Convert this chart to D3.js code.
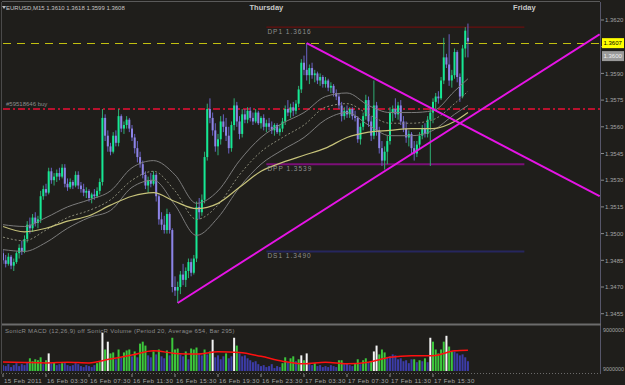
<!DOCTYPE html>
<html><head><meta charset="utf-8">
<script src="https://cdn.jsdelivr.net/npm/d3@7"></script>
<style>html,body{margin:0;padding:0;background:#1f1e1b;}svg{display:block;font-family:"Liberation Sans",Arial,sans-serif;}</style>
</head><body>
<svg id="c" width="625" height="385"></svg>
<script>
// ---------- DATA ----------
const symbol = "EURUSD,M15";
const opens = [1.3489,1.3485,1.3483,1.3487,1.3482,1.3484,1.3489,1.3492,1.3490,1.3497,1.3505,1.3503,1.3509,1.3506,1.3508,1.3521,1.3525,1.3523,1.3535,1.3530,1.3532,1.3534,1.3532,1.3537,1.3528,1.3526,1.3529,1.3527,1.3533,1.3527,1.3525,1.3523,1.3524,1.3520,1.3522,1.3521,1.3524,1.3529,1.3565,1.3555,1.3549,1.3546,1.3555,1.3551,1.3566,1.3559,1.3561,1.3564,1.3559,1.3554,1.3548,1.3543,1.3539,1.3533,1.3527,1.3530,1.3528,1.3533,1.3521,1.3508,1.3505,1.3502,1.3511,1.3502,1.3470,1.3468,1.3470,1.3477,1.3474,1.3479,1.3484,1.3478,1.3486,1.3515,1.3512,1.3519,1.3543,1.3570,1.3565,1.3558,1.3549,1.3553,1.3563,1.3560,1.3555,1.3548,1.3561,1.3572,1.3563,1.3556,1.3567,1.3564,1.3569,1.3565,1.3563,1.3568,1.3562,1.3565,1.3560,1.3562,1.3560,1.3558,1.3561,1.3557,1.3559,1.3563,1.3570,1.3568,1.3571,1.3569,1.3573,1.3581,1.3596,1.3592,1.3589,1.3593,1.3589,1.3590,1.3586,1.3588,1.3584,1.3586,1.3582,1.3583,1.3579,1.3577,1.3572,1.3566,1.3569,1.3567,1.3570,1.3566,1.3565,1.3553,1.3560,1.3566,1.3575,1.3563,1.3555,1.3572,1.3558,1.3548,1.3541,1.3546,1.3552,1.3568,1.3570,1.3567,1.3572,1.3563,1.3559,1.3554,1.3556,1.3548,1.3545,1.3550,1.3555,1.3559,1.3556,1.3564,1.3568,1.3574,1.3577,1.3576,1.3586,1.3599,1.3595,1.3586,1.3589,1.3602,1.3588,1.3577,1.3604,1.3610];
const highs = [1.3491,1.3488,1.3489,1.3488,1.3486,1.3490,1.3494,1.3496,1.3499,1.3507,1.3509,1.3511,1.3512,1.3510,1.3524,1.3527,1.3528,1.3537,1.3537,1.3534,1.3536,1.3537,1.3539,1.3539,1.3531,1.3531,1.3530,1.3535,1.3535,1.3529,1.3528,1.3526,1.3525,1.3523,1.3525,1.3526,1.3531,1.3570,1.3567,1.3558,1.3551,1.3557,1.3558,1.3570,1.3567,1.3563,1.3566,1.3565,1.3561,1.3556,1.3552,1.3546,1.3541,1.3535,1.3532,1.3534,1.3535,1.3534,1.3522,1.3512,1.3510,1.3514,1.3512,1.3503,1.3476,1.3473,1.3479,1.3483,1.3481,1.3486,1.3486,1.3488,1.3518,1.3520,1.3522,1.3546,1.3573,1.3576,1.3568,1.3562,1.3556,1.3566,1.3567,1.3565,1.3560,1.3563,1.3576,1.3574,1.3566,1.3570,1.3570,1.3571,1.3571,1.3568,1.3570,1.3569,1.3566,1.3567,1.3564,1.3565,1.3563,1.3562,1.3562,1.3561,1.3565,1.3572,1.3575,1.3573,1.3574,1.3575,1.3583,1.3598,1.3600,1.3607,1.3595,1.3596,1.3592,1.3591,1.3590,1.3589,1.3588,1.3587,1.3585,1.3584,1.3581,1.3579,1.3574,1.3571,1.3572,1.3571,1.3571,1.3569,1.3566,1.3562,1.3568,1.3578,1.3577,1.3566,1.3586,1.3574,1.3560,1.3552,1.3549,1.3555,1.3571,1.3572,1.3576,1.3574,1.3575,1.3566,1.3563,1.3558,1.3557,1.3552,1.3552,1.3557,1.3561,1.3562,1.3566,1.3570,1.3576,1.3579,1.3580,1.3588,1.3610,1.3601,1.3612,1.3592,1.3604,1.3603,1.3590,1.3606,1.3616,1.3618];
const lows = [1.3483,1.3481,1.3482,1.3480,1.3479,1.3483,1.3486,1.3488,1.3489,1.3495,1.3500,1.3501,1.3504,1.3503,1.3506,1.3519,1.3521,1.3522,1.3528,1.3527,1.3529,1.3530,1.3531,1.3526,1.3524,1.3525,1.3525,1.3526,1.3525,1.3523,1.3521,1.3520,1.3518,1.3517,1.3519,1.3520,1.3522,1.3527,1.3552,1.3546,1.3544,1.3545,1.3549,1.3549,1.3557,1.3556,1.3559,1.3557,1.3552,1.3545,1.3540,1.3537,1.3531,1.3525,1.3523,1.3526,1.3527,1.3518,1.3505,1.3502,1.3500,1.3500,1.3500,1.3467,1.3465,1.3461,1.3466,1.3471,1.3470,1.3475,1.3476,1.3477,1.3484,1.3508,1.3510,1.3517,1.3541,1.3562,1.3555,1.3546,1.3544,1.3550,1.3557,1.3552,1.3545,1.3546,1.3558,1.3560,1.3553,1.3554,1.3562,1.3562,1.3563,1.3561,1.3562,1.3561,1.3559,1.3558,1.3557,1.3558,1.3556,1.3555,1.3556,1.3555,1.3557,1.3561,1.3566,1.3565,1.3566,1.3567,1.3571,1.3579,1.3589,1.3586,1.3584,1.3587,1.3585,1.3584,1.3583,1.3582,1.3582,1.3580,1.3579,1.3577,1.3575,1.3570,1.3563,1.3564,1.3565,1.3565,1.3564,1.3563,1.3551,1.3550,1.3558,1.3564,1.3560,1.3552,1.3553,1.3555,1.3545,1.3538,1.3536,1.3539,1.3550,1.3563,1.3565,1.3564,1.3561,1.3557,1.3551,1.3549,1.3545,1.3541,1.3543,1.3548,1.3553,1.3554,1.3554,1.3538,1.3562,1.3570,1.3573,1.3575,1.3584,1.3593,1.3583,1.3582,1.3587,1.3585,1.3574,1.3576,1.3599,1.3599];
const closes = [1.3485,1.3483,1.3487,1.3482,1.3484,1.3489,1.3492,1.3490,1.3497,1.3505,1.3503,1.3509,1.3506,1.3508,1.3521,1.3525,1.3523,1.3535,1.3530,1.3532,1.3534,1.3532,1.3537,1.3528,1.3526,1.3529,1.3527,1.3533,1.3527,1.3525,1.3523,1.3524,1.3520,1.3522,1.3521,1.3524,1.3529,1.3565,1.3555,1.3549,1.3546,1.3555,1.3551,1.3566,1.3559,1.3561,1.3564,1.3559,1.3554,1.3548,1.3543,1.3539,1.3533,1.3527,1.3530,1.3528,1.3533,1.3521,1.3508,1.3505,1.3502,1.3511,1.3502,1.3470,1.3468,1.3470,1.3477,1.3474,1.3479,1.3484,1.3478,1.3486,1.3515,1.3512,1.3519,1.3543,1.3570,1.3565,1.3558,1.3549,1.3553,1.3563,1.3560,1.3555,1.3548,1.3561,1.3572,1.3563,1.3556,1.3567,1.3564,1.3569,1.3565,1.3563,1.3568,1.3562,1.3565,1.3560,1.3562,1.3560,1.3558,1.3561,1.3557,1.3559,1.3563,1.3570,1.3568,1.3571,1.3569,1.3573,1.3581,1.3596,1.3592,1.3589,1.3593,1.3589,1.3590,1.3586,1.3588,1.3584,1.3586,1.3582,1.3583,1.3579,1.3577,1.3572,1.3566,1.3569,1.3567,1.3570,1.3566,1.3565,1.3553,1.3560,1.3566,1.3575,1.3563,1.3555,1.3572,1.3558,1.3548,1.3541,1.3546,1.3552,1.3568,1.3570,1.3567,1.3572,1.3563,1.3559,1.3554,1.3556,1.3548,1.3545,1.3550,1.3555,1.3559,1.3556,1.3564,1.3568,1.3574,1.3577,1.3576,1.3586,1.3599,1.3595,1.3586,1.3589,1.3602,1.3588,1.3577,1.3604,1.3614,1.3608];

const volumes = [240,200,280,160,240,320,200,280,240,360, 520,400,480,440,560,280,440,720,320,360, 240,280,320,360,240,200,240,320,280,200, 160,240,200,160,240,320,400,1560,880,1200, 720,760,480,880,560,760,840,880,600,800, 560,1120,1200,1040,640,560,800,680,880,600, 520,840,640,1360,880,920,680,600,800,480, 920,880,960,720,640,880,680,800,1280,560, 640,480,600,720,520,600,1360,1040,720,600, 640,520,440,360,400,280,200,240,160,200, 280,120,200,160,320,560,360,520,600,400, 480,640,440,720,280,240,320,200,240,160, 200,160,240,200,160,440,440,280,320,240, 200,320,480,280,440,520,360,400,800,1040, 680,880,760,560,600,680,640,480,520,400, 440,320,480,480,360,440,400,520,360,1360, 1200,880,720,880,1200,1440,1000,800,800,720, 640,680,560,400];
const volTypes = "bbbbbbbbbb"+"gggggbgwbg"+"bbgbbbbbbb"+"bbbbbggwgw"+"ggbgbgggbg"+"bgggbbgbgb"+"bgbgggbbgb"+"gggbbgbgwb"+"bbbgbbwgbb"+"bbbbbbbbbb"+"bbbbggbggb"+"gwgwbbgbbb"+"bbbbbggbbb"+"bggbggbgww"+"gggbbbbbbb"+"bbbgbgbgbw"+"gggggwggbb"+"bbbb";
const volAvgIdx = [0,8,16,24,32,40,48,56,64,72,80,88,96,104,112,120,128,136,144,152,160,168,173];
const volAvg    = [372,348,332,360,332,492,652,828,720,692,788,760,600,400,292,360,292,360,560,628,628,828,852];

// moving averages read at sparse bars
const maIdx      = [0,8,16,24,32,40,48,56,64,72,80,88,96,104,112,120,128,136,144,152,160,168,173];
const ema89      = [1.3504,1.3501,1.3503,1.3507,1.3510,1.3516,1.3521,1.3523,1.3518,1.3514,1.3517,1.3526,1.3535,1.3540,1.3544,1.3548,1.3554,1.3557,1.3558,1.3559,1.3559,1.3563,1.3568];
const dragonHigh = [1.3505,1.3504,1.3509,1.3515,1.3519,1.3524,1.3537,1.3541,1.3533,1.3517,1.3524,1.3541,1.3554,1.3562,1.3568,1.3577,1.3579,1.3572,1.3568,1.3568,1.3569,1.3580,1.3587];
const dragonMid  = [1.3498,1.3496,1.3502,1.3509,1.3513,1.3519,1.3530,1.3535,1.3524,1.3508,1.3516,1.3533,1.3546,1.3554,1.3561,1.3571,1.3573,1.3567,1.3562,1.3562,1.3564,1.3573,1.3580];
const dragonLow  = [1.3491,1.3490,1.3495,1.3503,1.3509,1.3513,1.3526,1.3530,1.3516,1.3499,1.3509,1.3526,1.3539,1.3547,1.3554,1.3564,1.3568,1.3561,1.3555,1.3555,1.3558,1.3567,1.3572];

const priceTicks = [1.3620,1.3605,1.3590,1.3575,1.3560,1.3545,1.3530,1.3515,1.3500,1.3485,1.3470,1.3455];
const timeIdx    = [0,16,32,48,64,80,96,112,128,144,160];
const timeLabels = ["15 Feb 2011","16 Feb 03:30","16 Feb 07:30","16 Feb 11:30","16 Feb 15:30","16 Feb 19:30","16 Feb 23:30","17 Feb 03:30","17 Feb 07:30","17 Feb 11:30","17 Feb 15:30"];
const dayIdx     = [98,194];
const dayLabels  = ["Thursday","Friday"];

const pivotNames  = ["DP1","DPP","DS1"];
const pivotValues = [1.3616,1.3539,1.3490];
const pivotColors = ["#7a0c0c","#7c0f78","#26265e"];
const pivotWidths = [1,2,2];
const pivotFrom = 98, pivotTo = 194;

const orderPrice = 1.3570, orderLabel = "#59518646 buy";
const alertPrice = 1.3607;
const lastBid = 1.3600;

const trendFromIdx = [65,113], trendFromPrice = [1.3461,1.3607];
const trendToIdx   = [222,222], trendToPrice   = [1.3612,1.3521];

const panelTitle = "SonicR MACD (12,26,9)   off     SonicR Volume (Period 20, Average 654, Bar 295)";
const volAxisLabels = ["9000000","9000000"];

// ---------- DRAW ----------
const svg = d3.select("#c");
const x = d3.scaleLinear().domain([0,160]).range([3,433]);
const y = d3.scaleLinear().domain([1.3455,1.3620]).range([313.7,20]);
const yv = d3.scaleLinear().domain([0,1800]).range([371,327]);
const L=3,R=600,T=2,B=323;
const FS=6;

svg.append("rect").attr("width",625).attr("height",385).attr("fill","#1f1e1b");
const defs = svg.append("defs");
defs.append("clipPath").attr("id","main").append("rect").attr("x",L).attr("y",T).attr("width",R-L).attr("height",B-T);
defs.append("clipPath").attr("id","vol").append("rect").attr("x",L).attr("y",326).attr("width",R-L).attr("height",47);

// frames
svg.append("line").attr("x1",L-1).attr("x2",R).attr("y1",T-0.5).attr("y2",T-0.5).attr("stroke","#5a5a5a");
svg.append("line").attr("x1",L-1.5).attr("x2",L-1.5).attr("y1",T).attr("y2",374).attr("stroke","#4a4a4a");
svg.append("line").attr("x1",R+0.5).attr("x2",R+0.5).attr("y1",T).attr("y2",374).attr("stroke","#56566a");
svg.append("rect").attr("x",L-1).attr("y",323.5).attr("width",R-L+2).attr("height",2).attr("fill","#6c6c6c");
svg.append("line").attr("x1",L).attr("x2",R).attr("y1",373.5).attr("y2",373.5).attr("stroke","#6a6a6a").attr("stroke-dasharray","1,2");

const gm = svg.append("g").attr("clip-path","url(#main)");

// horizontal lines
gm.append("line").attr("x1",L).attr("x2",R).attr("y1",Math.round(y(alertPrice))+0.5).attr("y2",Math.round(y(alertPrice))+0.5)
  .attr("stroke","#c2c010").attr("stroke-dasharray","8,6");
gm.append("line").attr("x1",L).attr("x2",R).attr("y1",y(orderPrice)).attr("y2",y(orderPrice))
  .attr("stroke","#b8122e").attr("stroke-width",2).attr("stroke-dasharray","7,3,2,3");
svg.append("text").attr("x",6).attr("y",y(orderPrice)-3).attr("fill","#8c8c8c").attr("font-size",FS).text(orderLabel);

pivotValues.forEach((v,k)=>{
  gm.append("line").attr("x1",x(pivotFrom)).attr("x2",x(pivotTo)).attr("y1",y(v)).attr("y2",y(v))
    .attr("stroke",pivotColors[k]).attr("stroke-width",pivotWidths[k]);
});

// candles
const gc = gm.append("g");
closes.forEach((c,i)=>{
  const o=opens[i], up=c>=o;
  gc.append("line").attr("x1",x(i)).attr("x2",x(i)).attr("y1",y(highs[i])).attr("y2",y(lows[i]))
    .attr("stroke",up?"#2fae74":"#6a62c4").attr("stroke-width",1);
  const top=y(Math.max(o,c)), bot=y(Math.min(o,c));
  gc.append("rect").attr("x",x(i)-1).attr("width",2).attr("y",top).attr("height",Math.max(1,bot-top))
    .attr("fill",up?"#16e894":"#8d84e6");
});

// moving averages
const maLine = d3.line().x((d,k)=>x(maIdx[k])).y(d=>y(d)).curve(d3.curveMonotoneX);
gm.append("path").attr("d",maLine(dragonHigh)).attr("fill","none").attr("stroke","#7c7c7c").attr("stroke-width",1);
gm.append("path").attr("d",maLine(dragonLow)).attr("fill","none").attr("stroke","#7c7c7c").attr("stroke-width",1);
gm.append("path").attr("d",maLine(dragonMid)).attr("fill","none").attr("stroke","#8a8a78").attr("stroke-width",1).attr("stroke-dasharray","2,2");
gm.append("path").attr("d",maLine(ema89)).attr("fill","none").attr("stroke","#c6c27a").attr("stroke-width",1.2);

// trend lines
trendFromIdx.forEach((a,k)=>{
  gm.append("line").attr("x1",x(a)).attr("y1",y(trendFromPrice[k])).attr("x2",x(trendToIdx[k])).attr("y2",y(trendToPrice[k]))
    .attr("stroke","#e614e6").attr("stroke-width",2);
});

// pivot labels
pivotValues.forEach((v,k)=>{
  svg.append("text").attr("x",x(pivotFrom)+1).attr("y",y(v)+7).attr("fill","#8e8e8e").attr("font-size",6.5)
    .attr("letter-spacing",1).text(pivotNames[k]+"  "+v.toFixed(4));
});

// header & day labels
svg.append("path").attr("d","M2,6 L6,6 L4,9 Z").attr("fill","#bbb");
svg.append("text").attr("x",6).attr("y",10).attr("fill","#c4c4c4").attr("font-size",FS)
  .text(symbol+"  "+[opens[173],highs[173],lows[173],closes[173]].map(v=>v.toFixed(4)).join(" "));
dayIdx.forEach((d,k)=>{
  svg.append("text").attr("x",x(d)).attr("y",10).attr("text-anchor","middle").attr("fill","#c8c8c8")
    .attr("font-size",7.5).attr("font-weight","bold").text(dayLabels[k]);
});

// price axis (the 1.3605 label sits under the alert label, so only its tick is drawn)
priceTicks.forEach(p=>{
  svg.append("line").attr("x1",R+1).attr("x2",R+4).attr("y1",y(p)).attr("y2",y(p)).attr("stroke","#8a8a8a");
  if (Math.abs(p-alertPrice) > 0.0004)
    svg.append("text").attr("x",R+5).attr("y",y(p)+2.2).attr("fill","#a4a4a4").attr("font-size",FS).text(p.toFixed(4));
});
svg.append("rect").attr("x",R+2).attr("y",y(alertPrice)-5).attr("width",22).attr("height",10).attr("fill","#ffff00");
svg.append("text").attr("x",R+3.5).attr("y",y(alertPrice)+2.2).attr("fill","#000").attr("font-size",FS).text(alertPrice.toFixed(4));
svg.append("rect").attr("x",R+2).attr("y",y(lastBid)-4.5).attr("width",22).attr("height",10).attr("fill","#9a9a9a");
svg.append("text").attr("x",R+3.5).attr("y",y(lastBid)+2.7).attr("fill","#f0f0f0").attr("font-size",FS).text(lastBid.toFixed(4));

// volume panel
const gv = svg.append("g").attr("clip-path","url(#vol)");
const vcol = {b:"#3c3ca8",g:"#3cc83c",w:"#f4f4f4"};
volumes.forEach((v,i)=>{
  gv.append("rect").attr("x",x(i)-1).attr("width",2).attr("y",yv(v)).attr("height",yv(0)-yv(v)).attr("fill",vcol[volTypes[i]]);
});
const vLine = d3.line().x((d,k)=>x(volAvgIdx[k])).y(d=>yv(d)).curve(d3.curveMonotoneX);
gv.append("path").attr("d",vLine(volAvg)).attr("fill","none").attr("stroke","#ff1010").attr("stroke-width",1.5);
svg.append("text").attr("x",5).attr("y",333).attr("fill","#8c8c8c").attr("font-size",6).attr("letter-spacing",0.3).text(panelTitle);
svg.append("text").attr("x",R+3).attr("y",332).attr("fill","#a4a4a4").attr("font-size",FS)
  .attr("textLength",21).attr("lengthAdjust","spacingAndGlyphs").text(volAxisLabels[0]);
svg.append("text").attr("x",R+3).attr("y",371).attr("fill","#a4a4a4").attr("font-size",FS)
  .attr("textLength",21).attr("lengthAdjust","spacingAndGlyphs").text(volAxisLabels[1]);

// time axis
timeIdx.forEach((t,k)=>{
  svg.append("line").attr("x1",x(t)).attr("x2",x(t)).attr("y1",374).attr("y2",377).attr("stroke","#8a8a8a");
  svg.append("text").attr("x",x(t)+1).attr("y",383).attr("fill","#a4a4a4").attr("font-size",6.2)
    .attr("letter-spacing",0.35).text(timeLabels[k]);
});
</script>
</body></html>
